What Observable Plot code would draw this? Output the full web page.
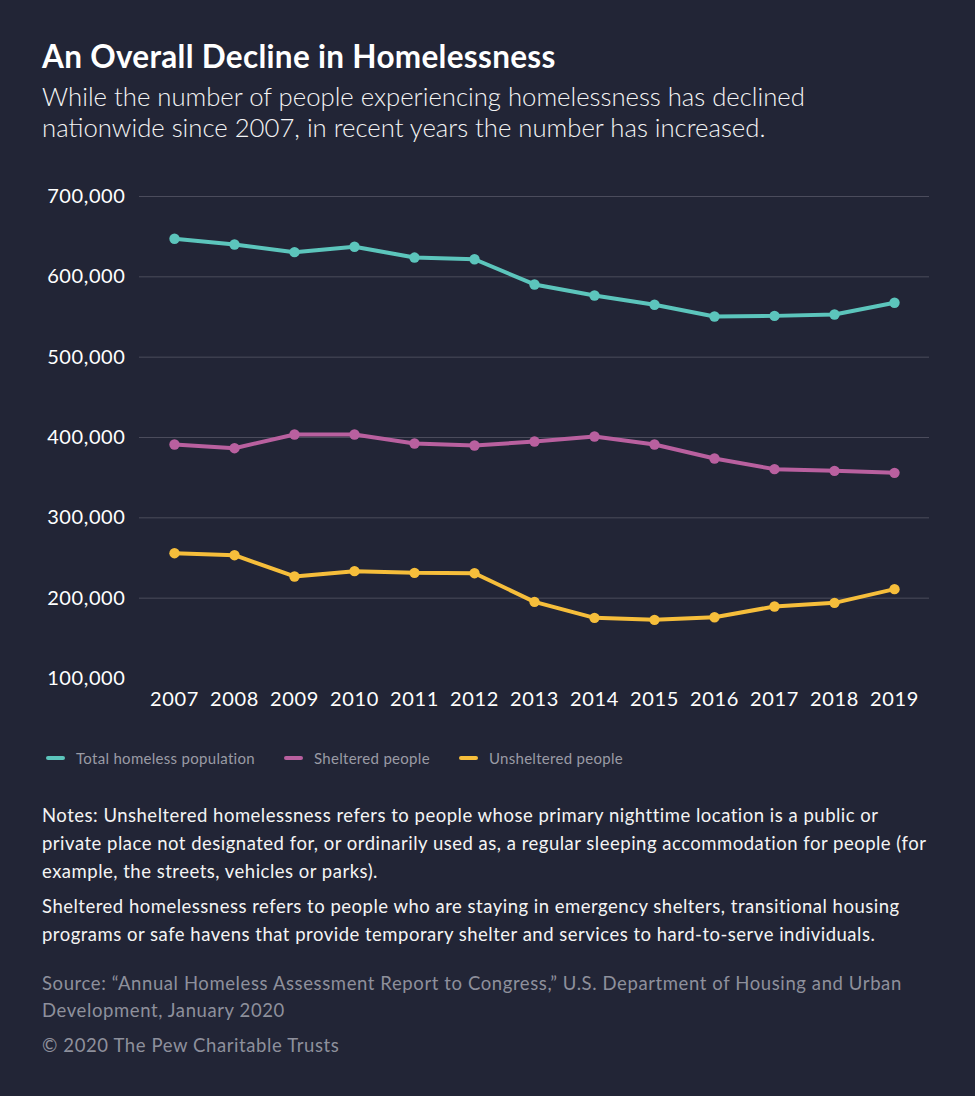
<!DOCTYPE html>
<html>
<head>
<meta charset="utf-8">
<script src="https://cdn.jsdelivr.net/npm/d3@7"></script>
<script src="https://cdn.jsdelivr.net/npm/@observablehq/plot@0.6"></script>
<style>
  html, body { margin: 0; padding: 0; background: #222536; }
  body { width: 975px; height: 1096px; overflow: hidden; font-family: Lato, "Open Sans", sans-serif; color: #fff; position: relative; }
  #title { position: absolute; left: 42px; top: 37px; font-size: 31.5px; font-weight: 700; line-height: 38px; letter-spacing: 0.3px; }
  #subtitle { position: absolute; left: 42px; top: 81px; font-size: 25.7px; font-weight: 300; line-height: 31px; color: #f4f4f4; }
  #chart { position: absolute; left: 0; top: 160px; }
  #chart svg text { letter-spacing: 0.6px; }
  #legend { position: absolute; left: 46px; top: 748px; font-size: 15px; letter-spacing: 0.3px; color: #9a9ba5; display: flex; }
  .item { display: flex; align-items: center; margin-right: 29px; height: 20px; }
  .sw { width: 19px; height: 4px; border-radius: 2px; margin-right: 11px; }
  #notes { position: absolute; left: 42px; top: 801px; font-size: 18.5px; letter-spacing: 0.5px; line-height: 28px; color: #f4f4f4; }
  #notes p { margin: 0 0 7px 0; }
  #source { position: absolute; left: 42px; top: 970px; font-size: 18.5px; letter-spacing: 0.6px; line-height: 27px; color: #8e909c; }
  #copy { position: absolute; left: 42px; top: 1032px; font-size: 18.5px; letter-spacing: 0.6px; line-height: 27px; color: #8e909c; }
</style>
</head>
<body>
<div id="title">An Overall Decline in Homelessness</div>
<div id="subtitle">While the number of people experiencing homelessness has declined<br>nationwide since 2007, in recent years the number has increased.</div>
<div id="chart"></div>
<div id="legend"></div>
<div id="notes">
  <p>Notes: Unsheltered homelessness refers to people whose primary nighttime location is a public or<br>private place not designated for, or ordinarily used as, a regular sleeping accommodation for people (for<br>example, the streets, vehicles or parks).</p>
  <p>Sheltered homelessness refers to people who are staying in emergency shelters, transitional housing<br>programs or safe havens that provide temporary shelter and services to hard-to-serve individuals.</p>
</div>
<div id="source">Source: “Annual Homeless Assessment Report to Congress,” U.S. Department of Housing and Urban<br>Development, January 2020</div>
<div id="copy">© 2020 The Pew Charitable Trusts</div>
<script>
const years = ["2007","2008","2009","2010","2011","2012","2013","2014","2015","2016","2017","2018","2019"];
const total = [647400, 640300, 630700, 637400, 624000, 621900, 590500, 576800, 565200, 550600, 551400, 553100, 567700];
const sheltered = [391300, 386700, 403700, 403700, 392500, 390000, 395000, 401300, 391300, 373900, 360600, 358500, 356000];
const unsheltered = [256000, 253500, 227000, 233600, 231500, 231100, 195400, 175500, 173000, 176300, 189600, 194200, 211200];
const seriesNames = ["Total homeless population", "Sheltered people", "Unsheltered people"];
const seriesColors = ["#5cc5bc", "#b9609f", "#f6be3b"];
const yTicks = [100000, 200000, 300000, 400000, 500000, 600000, 700000];
const gridTicks = [200000, 300000, 400000, 500000, 600000, 700000];

const seriesValues = [total, sheltered, unsheltered];
const data = [];
seriesNames.forEach((s, i) => years.forEach((y, j) => data.push({series: s, year: y, value: seriesValues[i][j]})));

const chart = Plot.plot({
  width: 975,
  height: 568,
  marginLeft: 139,
  marginRight: 46,
  marginTop: 36,
  marginBottom: 50,
  style: { background: "transparent", color: "#fff", fontFamily: "Lato, 'Open Sans', sans-serif", fontSize: "20px" },
  x: { type: "point", domain: years, padding: 0.5, label: null },
  y: { domain: [100000, 700000], label: null },
  color: { domain: seriesNames, range: seriesColors },
  marks: [
    Plot.ruleY(gridTicks, { stroke: "#4b4c5c", strokeWidth: 1 }),
    Plot.line(data, { x: "year", y: "value", z: "series", stroke: "series", strokeWidth: 4, strokeLinejoin: "round" }),
    Plot.dot(data, { x: "year", y: "value", fill: "series", r: 5.2 }),
    Plot.axisX({ tickSize: 0, tickPadding: 13, fontSize: 20, fill: "#fff", label: null }),
    Plot.axisY({ ticks: yTicks, tickSize: 0, tickPadding: 14, tickFormat: d3.format(","), fontSize: 20, fill: "#fff", label: null })
  ]
});
document.getElementById("chart").appendChild(chart);

const legend = document.getElementById("legend");
seriesNames.forEach((s, i) => {
  const it = document.createElement("div");
  it.className = "item";
  const sw = document.createElement("div");
  sw.className = "sw";
  sw.style.background = seriesColors[i];
  const t = document.createElement("span");
  t.textContent = s;
  it.appendChild(sw); it.appendChild(t);
  legend.appendChild(it);
});
</script>
</body>
</html>
